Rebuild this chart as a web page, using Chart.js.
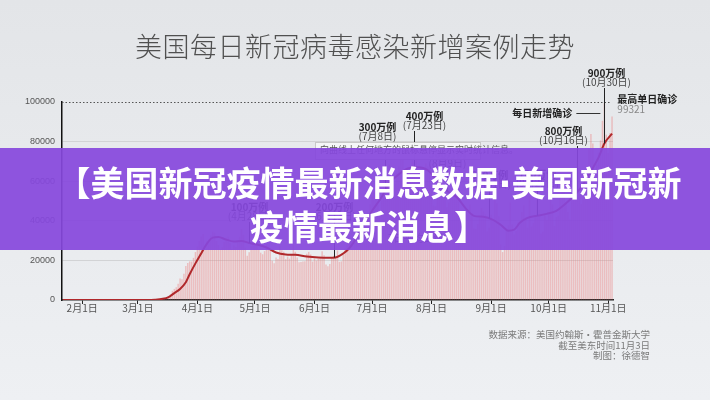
<!DOCTYPE html>
<html lang="zh-CN">
<head>
<meta charset="utf-8">
<title>美国每日新冠病毒感染新增案例走势</title>
<script src="https://cdn.jsdelivr.net/npm/chart.js@4.4.1/dist/chart.umd.min.js"></script>
<style>
  html, body { margin: 0; padding: 0; }
  #wrap {
    position: relative; width: 710px; height: 400px; overflow: hidden;
    background: linear-gradient(#e3e5e8, #eef0f3);
    font-family: "Noto Sans CJK SC", "Noto Sans", sans-serif;
  }
  #chart { position: absolute; left: 0; top: 0; }
  #title {
    position: absolute; left: 0; right: 0; top: 26px; text-align: center;
    font-size: 27px; font-weight: 300; color: #505050; letter-spacing: 0.5px;
  }
  #banner {
    position: absolute; left: 0; right: 0; top: 148px; height: 102px;
    background: rgba(134, 72, 221, 0.93);
    color: #fff; font-weight: 700; font-size: 34px; line-height: 42px;
    text-align: center; padding-top: 13px; padding-left: 28px; box-sizing: border-box;
    white-space: nowrap;
  }
  #banner .dot { font-family: "DejaVu Sans", sans-serif; }
  #source {
    position: absolute; right: 60px; top: 329px; text-align: right;
    font-size: 9.5px; line-height: 10.5px; color: #7a7a7a;
  }
</style>
</head>
<body>
<div id="wrap">
  <canvas id="chart" width="710" height="400"></canvas>
  <div id="title">美国每日新冠病毒感染新增案例走势</div>
  <div id="banner">【美国新冠疫情最新消息数据<span class="dot">·</span>美国新冠新<br>疫情最新消息】</div>
  <div id="source">数据来源：美国约翰斯·霍普金斯大学<br>截至美东时间11月3日<br>制图：徐德智</div>
</div>
<script>
// 每日新增确诊（1月22日 - 11月3日）
const jan = [1, 0, 1, 0, 3, 0, 0, 0, 0, 1];
const feb = [1, 0, 3, 0, 0, 0, 0, 0, 0, 1, 0, 1, 0, 0, 0, 0, 0, 0, 0, 0, 2, 0, 0, 1, 0, 3, 0, 0, 1];
const mar = [8, 7, 23, 19, 33, 77, 56, 101, 121, 184, 291, 436, 655, 731, 1000, 1450, 1880, 2820, 4650, 5610,
  6440, 8190, 10800, 10500, 13300, 17200, 18700, 19500, 19400, 21300, 24200];
const apr = [27000, 29800, 32100, 33300, 25600, 29700, 30600, 32600, 34500, 34000, 29800, 27800, 25600, 26600, 29300,
  31500, 32100, 28800, 25700, 27700, 26800, 29600, 31900, 35900, 33000, 26400, 22300, 24100, 27300, 30200];
const may = [33900, 29400, 25600, 23900, 23100, 24700, 28100, 27000, 25100, 19800, 18600, 21500, 20700, 27200, 25100,
  24400, 20600, 21900, 20900, 22800, 28000, 24400, 21500, 19100, 19200, 19400, 19600, 23400, 24300, 23000, 19400];
const jun = [21000, 19900, 20800, 21700, 24600, 22600, 17900, 17000, 18200, 21000, 22300, 22400, 25100, 19300, 19500,
  22800, 26100, 27800, 31500, 31200, 27600, 29200, 35700, 37100, 38800, 44800, 43400, 38500, 42800, 48300];
const jul = [52100, 54200, 56800, 48200, 44300, 50100, 60900, 62500, 61200, 68400, 63400, 59600, 58700, 64200, 67400,
  75600, 71500, 64600, 62100, 61400, 66700, 70600, 69300, 74800, 66000, 54800, 56700, 64100, 68900, 67400, 68400];
const aug = [57300, 47700, 47300, 52700, 56900, 59200, 58500, 55700, 46800, 49300, 52500, 55900, 53800, 64000, 52300,
  41000, 41300, 45300, 44900, 45600, 48200, 44000, 36100, 35800, 38400, 41700, 46400, 44700, 43200, 34600, 36500];
const sep = [43000, 39800, 51600, 48900, 42300, 28000, 24200, 27300, 35500, 37700, 49200, 38300, 33100, 34800, 39100,
  40000, 44500, 47700, 41800, 36500, 52300, 37100, 38900, 42900, 54900, 45500, 33400, 34600, 43800, 40400];
const oct = [43300, 54600, 48300, 37400, 41900, 42600, 52600, 56200, 57500, 49200, 44500, 40700, 50300, 58200, 64700,
  70400, 53500, 48400, 60000, 61500, 63200, 76500, 83800, 79000, 62100, 68500, 74400, 80600, 90500, 99321, 83500];
const nov = [74300, 84400, 92700];

// 7日平均曲线（关键日期）
const avgDates = ['1月22日', '2月20日', '3月5日', '3月10日', '3月14日', '3月17日', '3月20日', '3月23日', '3月26日',
  '3月28日', '3月31日', '4月3日', '4月6日', '4月9日', '4月12日', '4月16日', '4月20日', '4月24日', '4月28日',
  '5月2日', '5月7日', '5月12日', '5月17日', '5月22日', '5月28日', '6月3日', '6月8日', '6月12日', '6月16日',
  '6月19日', '6月22日', '6月26日', '7月1日', '7月6日', '7月10日', '7月15日', '7月20日', '7月25日', '7月30日',
  '8月4日', '8月9日', '8月14日', '8月19日', '8月23日', '8月28日', '9月2日', '9月6日', '9月10日', '9月13日',
  '9月16日', '9月20日', '9月25日', '9月30日', '10月5日', '10月9日', '10月13日', '10月18日', '10月23日',
  '10月27日', '10月30日', '11月3日'];
const avgValues = [0, 1, 20, 150, 600, 1500, 3500, 5600, 9000,
  13000, 18500, 23500, 28500, 31500, 31800, 30500, 29600, 29800, 28800,
  28000, 26500, 24000, 23000, 22800, 22000, 21500, 21300, 21500, 23500,
  26000, 30000, 37000, 45000, 52000, 59000, 63500, 66500, 67000, 65500,
  60000, 55000, 52000, 46000, 42500, 42000, 40500, 38000, 35000, 35500,
  39000, 41500, 42500, 43500, 45000, 48000, 51500, 57000,
  65000, 72000, 79000, 84000];

const yTicks = [0, 20000, 40000, 60000, 80000, 100000];

// 累计里程碑
const msLabels = ['100万例', '200万例', '300万例', '400万例', '500万例', '600万例', '700万例', '800万例', '900万例'];
const msDates = ['4月28日', '6月11日', '7月8日', '7月23日', '8月9日', '8月31日', '9月25日', '10月16日', '10月30日'];
// 标注位置（像素），与数据分开
const msTextY = [207, 207, 127, 116, 154, 175, 174, 131, 73];
const msDx = [0, 0, -8, 10, 0, 0, 0, -14, 2];

// 日期标签
const dailyCases = [...jan, ...feb, ...mar, ...apr, ...may, ...jun, ...jul, ...aug, ...sep, ...oct, ...nov];
const labels = [];
for (let i = 0; i < dailyCases.length; i++) {
    const d = new Date(Date.UTC(2020, 0, 22 + i));
    labels.push(`${d.getUTCMonth() + 1}月${d.getUTCDate()}日`);
}
const isMonthStart = (i) => labels[i] && /月1日$/.test(labels[i]);
const avgPoints = avgDates.map((d, i) => ({ x: d, y: avgValues[i] }));

const CJK = '"Noto Sans CJK SC", "Noto Sans", sans-serif';

// 曲线上某个索引处的像素高度
function curveY(chart, idx) {
    const pts = chart.getDatasetMeta(0).data;
    const px = chart.scales.x.getPixelForValue(idx);
    for (let k = 0; k < pts.length - 1; k++) {
        if (px >= pts[k].x && px <= pts[k + 1].x) {
            const t = (px - pts[k].x) / (pts[k + 1].x - pts[k].x || 1);
            return pts[k].y + t * (pts[k + 1].y - pts[k].y);
        }
    }
    return pts[pts.length - 1].y;
}

const overlay = {
    id: 'overlay',
    afterDatasetsDraw(chart) {
        const { ctx, scales: { x, y }, chartArea } = chart;
        ctx.save();

        // 100000 虚线
        const yTop = y.getPixelForValue(100000);
        ctx.strokeStyle = '#555';
        ctx.lineWidth = 1;
        ctx.setLineDash([1.5, 2]);
        ctx.beginPath();
        ctx.moveTo(chartArea.left, yTop + 0.5);
        ctx.lineTo(chartArea.right - 2, yTop + 0.5);
        ctx.stroke();
        ctx.setLineDash([]);

        // 里程碑
        ctx.textAlign = 'center';
        ctx.textBaseline = 'middle';
        msLabels.forEach((lab, i) => {
            const idx = labels.indexOf(msDates[i]);
            const px = Math.round(x.getPixelForValue(idx)) + 0.5;
            const ty = msTextY[i];
            ctx.strokeStyle = '#222';
            ctx.lineWidth = 1;
            ctx.beginPath();
            ctx.moveTo(px, ty + 15);
            ctx.lineTo(px, curveY(chart, idx));
            ctx.stroke();
            ctx.fillStyle = '#222';
            ctx.font = `600 10px ${CJK}`;
            ctx.fillText(lab, px + msDx[i], ty);
            ctx.fillStyle = '#444';
            ctx.font = `10px ${CJK}`;
            ctx.fillText(`(${msDates[i]})`, px + msDx[i], ty + 9);
        });

        // 悬停提示框
        ctx.fillStyle = 'rgba(246,247,248,0.95)';
        ctx.strokeStyle = '#c8c8c8';
        ctx.fillRect(315, 142, 165, 17);
        ctx.strokeRect(315.5, 142.5, 165, 17);
        ctx.fillStyle = '#555';
        ctx.font = `9px ${CJK}`;
        ctx.textAlign = 'left';
        ctx.fillText('向曲线上任何地方的鼠标悬停显示实时统计信息。', 320, 150);

        // 7日平均曲线说明
        ctx.fillStyle = '#333';
        ctx.font = `10px ${CJK}`;
        ctx.fillText('7日平均曲线', 388, 238);

        // 每日新增确诊
        const pk = labels.indexOf('10月30日');
        const pkX = x.getPixelForValue(pk);
        ctx.fillStyle = '#222';
        ctx.font = `600 10px ${CJK}`;
        ctx.textAlign = 'right';
        ctx.fillText('每日新增确诊', pkX - 32, 113);
        ctx.strokeStyle = '#333';
        ctx.beginPath();
        ctx.moveTo(pkX - 28, 113.5);
        ctx.lineTo(pkX - 4, 113.5);
        ctx.stroke();

        // 最高单日确诊
        ctx.textAlign = 'left';
        ctx.fillText('最高单日确诊', pkX + 13, 99);
        ctx.fillStyle = '#888';
        ctx.font = `10px ${CJK}`;
        ctx.fillText(String(oct[29]), pkX + 13, 109);

        ctx.restore();
    }
};

const ctx = document.getElementById('chart').getContext('2d');
new Chart(ctx, {
    type: 'bar',
    data: {
        labels: labels,
        datasets: [
            {
                type: 'line',
                label: '7日平均曲线',
                data: avgPoints,
                borderColor: '#b0282b',
                borderWidth: 2,
                pointRadius: 0,
                cubicInterpolationMode: 'monotone',
                order: 0,
            },
            {
                type: 'bar',
                label: '每日新增确诊',
                data: dailyCases,
                backgroundColor: 'rgba(236, 120, 120, 0.4)',
                barPercentage: 0.75,
                categoryPercentage: 1,
                order: 1,
            },
        ],
    },
    options: {
        responsive: false,
        animation: false,
        devicePixelRatio: 1,
        layout: { padding: { left: 0, top: 102, right: 97, bottom: 80 } },
        plugins: { legend: { display: false }, tooltip: { enabled: false } },
        scales: {
            x: {
                afterFit: (s) => { s.height = 20; },
                grid: {
                    display: true,
                    drawOnChartArea: false,
                    offset: false,
                    tickLength: 4,
                    color: (c) => (isMonthStart(c.index) ? '#222' : 'rgba(0,0,0,0)'),
                },
                border: { color: '#222', width: 1.5 },
                ticks: {
                    autoSkip: false,
                    maxRotation: 0,
                    padding: -2,
                    color: '#555',
                    font: { size: 10, family: CJK },
                    callback: (v, i) => (isMonthStart(i) ? labels[i] : ''),
                },
            },
            y: {
                min: 0,
                max: 100000,
                afterFit: (s) => { s.width = 62; },
                afterBuildTicks: (s) => { s.ticks = yTicks.map((v) => ({ value: v })); },
                grid: {
                    drawTicks: false,
                    color: (c) => (c.tick && c.tick.value > 0 && c.tick.value < 100000 ? '#d2d3d5' : 'rgba(0,0,0,0)'),
                },
                border: { color: '#111', width: 1.5 },
                ticks: {
                    padding: 7,
                    color: '#555',
                    font: { size: 9, family: '"Liberation Sans Narrow", "Liberation Sans", Arial, sans-serif' },
                    callback: (v) => String(v),
                },
            },
        },
    },
    plugins: [overlay],
});
</script>
</body>
</html>
